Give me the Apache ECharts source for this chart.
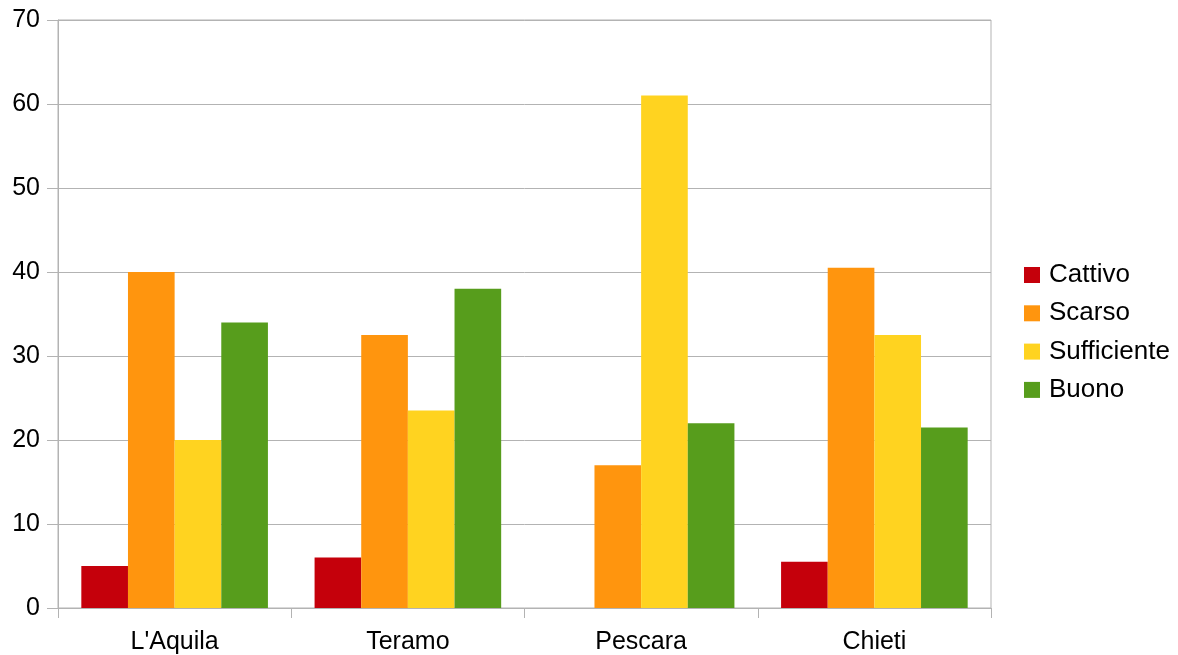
<!DOCTYPE html>
<html>
<head>
<meta charset="utf-8">
<script src="https://cdn.jsdelivr.net/npm/echarts@6/dist/echarts.min.js"></script>
<style>
  html, body { margin: 0; padding: 0; background: #fff; }
  #chart { width: 1178px; height: 655px; }
</style>
</head>
<body>
<div id="chart"></div>
<script>
// Province categories
const categories = ["L'Aquila", "Teramo", "Pescara", "Chieti"];

// Rating series values per province
const cattivo = [5, 6, 0, 5.5];
const scarso = [40, 32.5, 17, 40.5];
const sufficiente = [20, 23.5, 61, 32.5];
const buono = [34, 38, 22, 21.5];

const seriesNames = ['Cattivo', 'Scarso', 'Sufficiente', 'Buono'];
const seriesData = [cattivo, scarso, sufficiente, buono];
const seriesColors = ['#c5000b', '#ff950e', '#ffd320', '#579d1c'];

const yTicks = { min: 0, max: 70, interval: 10 };

const axisGray = '#b3b3b3';
const font = 'Liberation Sans, Arial, sans-serif';

const chart = echarts.init(document.getElementById('chart'), null, { renderer: 'canvas' });

chart.setOption({
  animation: false,
  backgroundColor: '#ffffff',
  textStyle: { fontFamily: font },
  grid: {
    left: 58, right: 187, top: 20, bottom: 47,
    show: true, borderColor: axisGray, borderWidth: 1, backgroundColor: 'transparent'
  },
  legend: {
    orient: 'vertical',
    left: 1024,
    top: 262,
    padding: 0,
    itemWidth: 16,
    itemHeight: 16,
    itemGap: 12.3,
    icon: 'rect',
    textStyle: { fontFamily: font, fontSize: 26, color: '#000', padding: [0, 0, 0, 4] },
    data: seriesNames
  },
  xAxis: {
    type: 'category',
    data: categories,
    boundaryGap: true,
    axisLine: { show: true, lineStyle: { color: axisGray, width: 1 } },
    axisTick: { show: true, length: 10, alignWithLabel: false, lineStyle: { color: axisGray } },
    axisLabel: { color: '#000', fontSize: 25, fontFamily: font, margin: 22 },
    splitLine: { show: false }
  },
  yAxis: {
    type: 'value',
    min: yTicks.min,
    max: yTicks.max,
    interval: yTicks.interval,
    axisLine: { show: true, lineStyle: { color: axisGray, width: 1 } },
    axisTick: { show: true, length: 11, lineStyle: { color: axisGray } },
    axisLabel: { color: '#000', fontSize: 25, fontFamily: font, margin: 18 },
    splitLine: { show: true, lineStyle: { color: axisGray, width: 1 } }
  },
  series: seriesNames.map((name, i) => ({
    name: name,
    type: 'bar',
    data: seriesData[i],
    barGap: '0%',
    barCategoryGap: '20%',
    itemStyle: { color: seriesColors[i] }
  }))
});
</script>
</body>
</html>
